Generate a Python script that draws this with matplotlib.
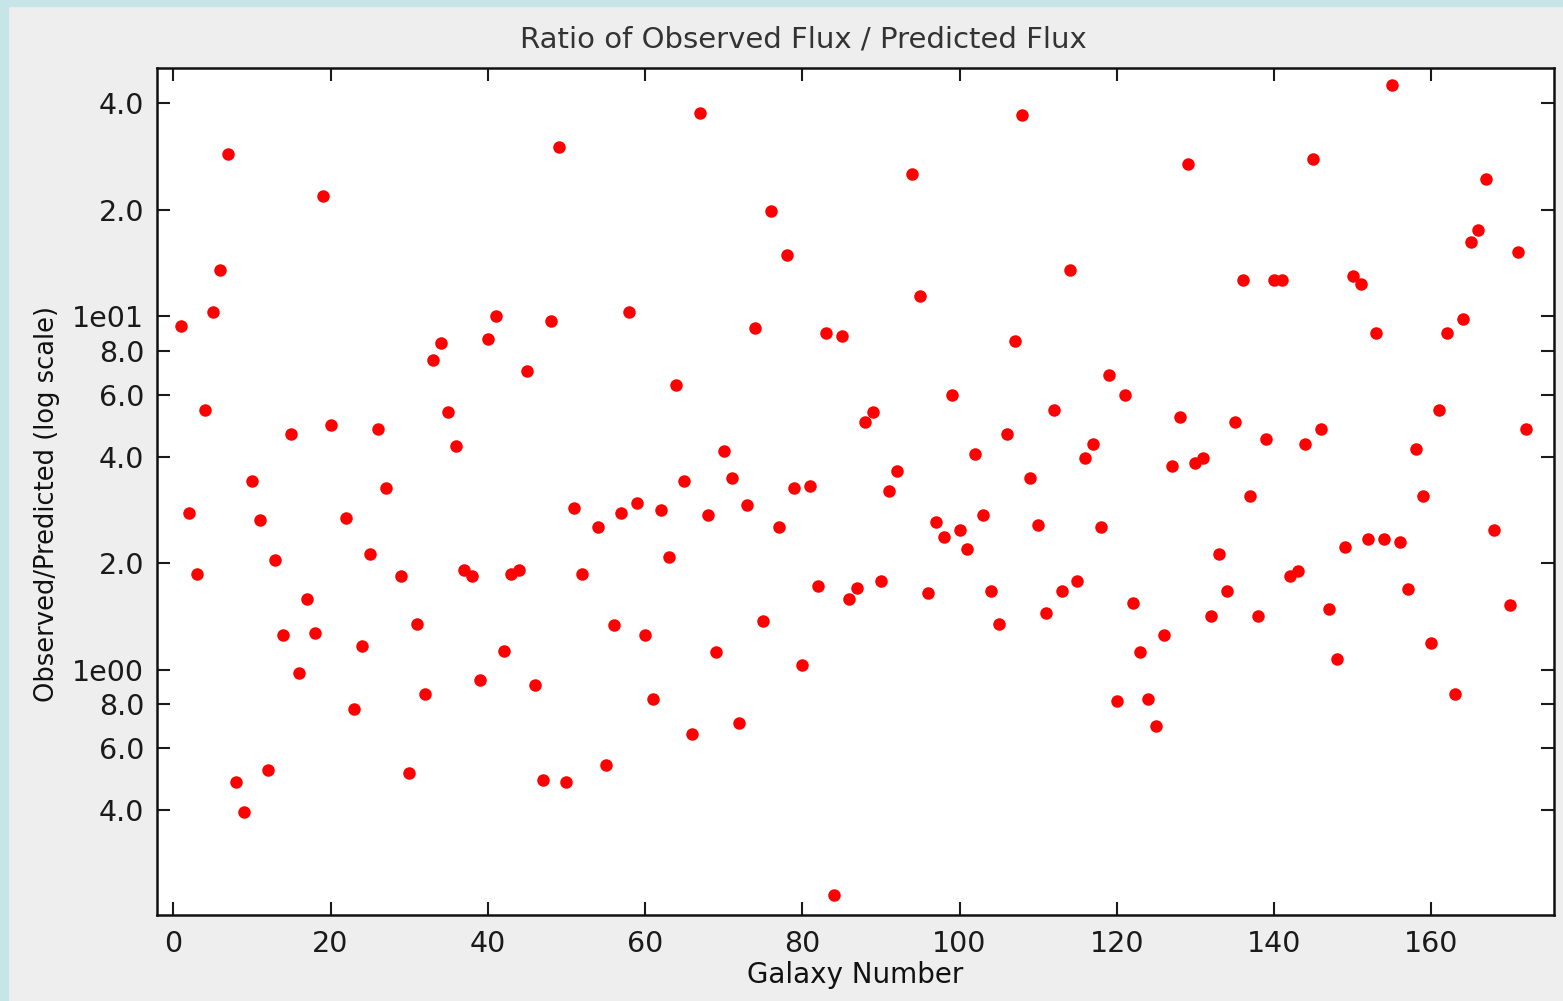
import numpy as np
import matplotlib
matplotlib.use('Agg')
import matplotlib.pyplot as plt
from matplotlib.patches import Rectangle

# galaxy number and observed/predicted flux ratio
galaxy = [1, 2, 3, 4, 5, 6, 7, 8, 9, 10, 11, 12, 13, 14, 15, 16, 17, 18, 19, 20,
          22, 23, 24, 25, 26, 27, 29, 30, 31, 32, 33, 34, 35, 36, 37, 38, 39, 40,
          41, 42, 43, 44, 45, 46, 47, 48, 49, 50, 51, 52, 54, 55, 56, 57, 58, 59,
          60, 61, 62, 63, 64, 65, 66, 67, 68, 69, 70, 71, 72, 73, 74, 75, 76, 77,
          78, 79, 80, 81, 82, 83, 84, 85, 86, 87, 88, 89, 90, 91, 92, 94, 95, 96,
          97, 98, 99, 100, 101, 102, 103, 104, 105, 106, 107, 108, 109, 110, 111,
          112, 113, 114, 115, 116, 117, 118, 119, 120, 121, 122, 123, 124, 125,
          126, 127, 128, 129, 130, 131, 132, 133, 134, 135, 136, 137, 138, 139,
          140, 141, 142, 143, 144, 145, 146, 147, 148, 149, 150, 151, 152, 153,
          154, 155, 156, 157, 158, 159, 160, 161, 162, 163, 164, 165, 166, 167,
          168, 170, 171, 172]
ratio = [9.37, 2.78, 1.86, 5.44, 10.3, 13.5, 28.7, 0.480, 0.395, 3.43, 2.65, 0.520,
         2.05, 1.25, 4.63, 0.98, 1.59, 1.27, 21.9, 4.94,
         2.69, 0.774, 1.17, 2.12, 4.80, 3.27, 1.84, 0.511, 1.35, 0.853, 7.51, 8.38,
         5.37, 4.29, 1.92, 1.84, 0.937, 8.65,
         10.0, 1.13, 1.87, 1.92, 7.02, 0.907, 0.487, 9.68, 30.1, 0.480, 2.87, 1.86,
         2.53, 0.537, 1.34, 2.77, 10.3, 2.97,
         1.25, 0.826, 2.83, 2.08, 6.39, 3.43, 0.660, 37.7, 2.74, 1.12, 4.15, 3.48,
         0.705, 2.93, 9.24, 1.37, 19.9, 2.53,
         14.9, 3.27, 1.03, 3.32, 1.73, 8.94, 0.230, 8.81, 1.59, 1.70, 5.03, 5.37,
         1.78, 3.21, 3.65, 25.3, 11.4, 1.65,
         2.62, 2.37, 6.0, 2.49, 2.19, 4.08, 2.74, 1.67, 1.35, 4.63, 8.52, 37.1, 3.48,
         2.57, 1.45,
         5.44, 1.67, 13.5, 1.78, 3.96, 4.35, 2.53, 6.81, 0.814, 6.0, 1.54, 1.12,
         0.826, 0.694,
         1.25, 3.77, 5.20, 27.0, 3.84, 3.96, 1.42, 2.13, 1.67, 5.03, 12.7, 3.11,
         1.42, 4.50,
         12.7, 12.7, 1.84, 1.90, 4.35, 27.8, 4.80, 1.49, 1.07, 2.22, 13.0, 12.3,
         2.34, 8.94,
         2.34, 45.0, 2.30, 1.69, 4.21, 3.11, 1.19, 5.44, 8.94, 0.853, 9.85, 16.2,
         17.5, 24.5,
         2.49, 1.52, 15.2, 4.80]

xticks = [0, 20, 40, 60, 80, 100, 120, 140, 160]
ymajor = [1, 10]
ymajor_labels = ['1e00', '1e01']
yminor = [0.4, 0.6, 0.8, 2, 4, 6, 8, 20, 40]
yminor_labels = ['4.0', '6.0', '8.0', '2.0', '4.0', '6.0', '8.0', '2.0', '4.0']

fig = plt.figure(figsize=(15.63, 10.01), dpi=100, facecolor='#eeeeee')
# light frame strips along left and top edge
fig.patches.append(Rectangle((0, 0), 8 / 1563, 1, transform=fig.transFigure,
                             color='#c5e5e8', zorder=0))
fig.patches.append(Rectangle((0, 1 - 6 / 1001), 1, 6 / 1001, transform=fig.transFigure,
                             color='#c5e5e8', zorder=0))

ax = fig.add_axes([0.1003, 0.0864, 0.8939, 0.8454])
ax.plot(galaxy, ratio, 'o', color='red', markersize=9, markeredgewidth=0)

ax.set_yscale('log')
ax.set_xlim(-2.1, 175.6)
ax.set_ylim(0.203, 50.3)
ax.set_xticks(xticks)
ax.set_xticklabels([str(t) for t in xticks])
ax.set_yticks(ymajor)
ax.set_yticklabels(ymajor_labels)
ax.set_yticks(yminor, minor=True)
ax.set_yticklabels(yminor_labels, minor=True)

ax.tick_params(which='both', direction='in', top=True, right=True,
               length=9.5, width=1.5, labelsize=20.5, colors='#1a1a1a')
ax.tick_params(axis='y', which='both', pad=9)
ax.tick_params(axis='x', which='both', pad=11)
for s in ax.spines.values():
    s.set_linewidth(1.8)
    s.set_color('#111111')

ax.set_xlabel('Galaxy Number', fontsize=20, color='#111111', labelpad=2)
ax.set_ylabel('Observed/Predicted (log scale)', fontsize=18.5, color='#111111')
ax.yaxis.set_label_coords(-0.069, 0.485)
fig.text(803 / 1563, 1 - 40 / 1001, 'Ratio of Observed Flux / Predicted Flux',
         fontsize=21, color='#333333', ha='center', va='center')

fig.savefig('out.png', dpi=100, facecolor=fig.get_facecolor())
